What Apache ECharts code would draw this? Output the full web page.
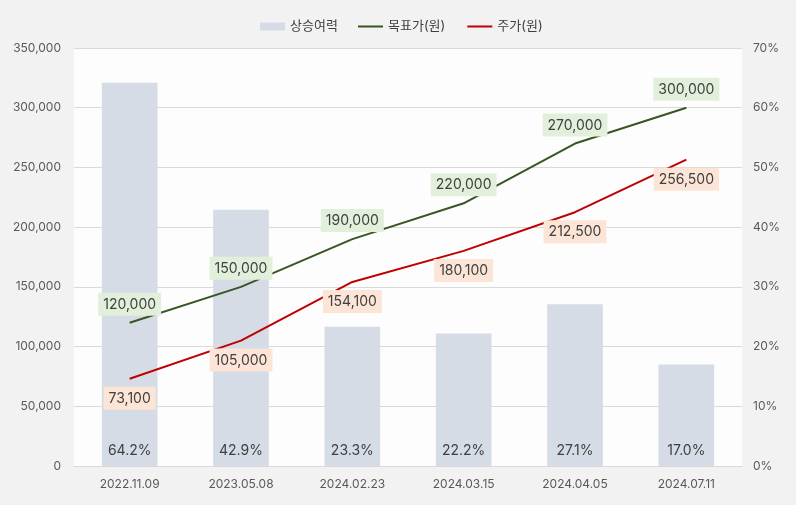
<!DOCTYPE html>
<html><head><meta charset="utf-8">
<script src="https://cdn.jsdelivr.net/npm/echarts@6/dist/echarts.min.js"></script>
<style>html,body{margin:0;padding:0;background:#f2f2f2;}#c{width:796px;height:505px;}</style>
</head><body><div id="c"></div>
<script>
const categories = ['2022.11.09','2023.05.08','2024.02.23','2024.03.15','2024.04.05','2024.07.11'];
const upside = [64.2, 42.9, 23.3, 22.2, 27.1, 17.0];
const targetPrice = [120000, 150000, 190000, 220000, 270000, 300000];
const stockPrice = [73100, 105000, 154100, 180100, 212500, 256500];
const seriesNames = ['상승여력', '목표가(원)', '주가(원)'];

const FONT = "Inter, 'Noto Sans CJK KR', sans-serif";
const fmt = v => v.toLocaleString('en-US');
const legendText = {color: '#404040', fontSize: 13, fontFamily: FONT};
const chart = echarts.init(document.getElementById('c'));
chart.setOption({
  backgroundColor: '#f2f2f2',
  textStyle: {fontFamily: FONT},
  legend: [{
    top: 15, left: 255, itemWidth: 25, itemHeight: 8, textStyle: legendText,
    data: [{name: seriesNames[0], icon: 'rect'}]
  }, {
    top: 15, left: 353, itemGap: 22, itemWidth: 25, itemHeight: 2, textStyle: legendText,
    data: [{name: seriesNames[1], icon: 'rect'}, {name: seriesNames[2], icon: 'rect'}]
  }],
  grid: {left: 74, right: 54, top: 48, bottom: 39, show: true, backgroundColor: '#fdfdfd', borderWidth: 0},
  xAxis: {
    type: 'category', data: categories,
    axisLine: {lineStyle: {color: '#d9d9d9'}}, axisTick: {show: false},
    axisLabel: {color: '#595959', fontSize: 12, margin: 12, fontFamily: FONT}
  },
  yAxis: [{
    type: 'value', min: 0, max: 350000, interval: 50000,
    axisLabel: {color: '#595959', fontSize: 12, margin: 13, formatter: v => fmt(v), fontFamily: FONT},
    splitLine: {lineStyle: {color: '#d9d9d9'}}, axisLine: {show: false}, axisTick: {show: false}
  }, {
    type: 'value', min: 0, max: 70, interval: 10,
    axisLabel: {color: '#595959', fontSize: 12, margin: 11, formatter: '{value}%', fontFamily: FONT},
    splitLine: {show: false}, axisLine: {show: false}, axisTick: {show: false}
  }],
  series: [{
    name: seriesNames[0], type: 'bar', yAxisIndex: 1, data: upside, barWidth: '50%',
    itemStyle: {color: '#d6dce5'},
    label: {show: true, position: 'insideBottom', distance: 8, color: '#404040', fontSize: 14, fontFamily: FONT,
      formatter: p => p.value.toFixed(1) + '%'}
  }, {
    name: seriesNames[1], type: 'line', data: targetPrice, symbol: 'circle', symbolSize: 0.01, z: 3,
    lineStyle: {color: '#375623', width: 2}, itemStyle: {color: '#375623'},
    label: {show: true, position: 'top', distance: 7, color: '#404040', fontSize: 14, fontFamily: FONT,
      backgroundColor: '#e2efda', padding: [5, 5, 4, 5], formatter: p => fmt(p.value)}
  }, {
    name: seriesNames[2], type: 'line', data: stockPrice, symbol: 'circle', symbolSize: 0.01, z: 3,
    lineStyle: {color: '#c00000', width: 2}, itemStyle: {color: '#c00000'},
    label: {show: true, position: 'bottom', distance: 8, color: '#404040', fontSize: 14, fontFamily: FONT,
      backgroundColor: '#fce4d6', padding: [5, 5, 4, 5], formatter: p => fmt(p.value)}
  }]
});
</script></body></html>
